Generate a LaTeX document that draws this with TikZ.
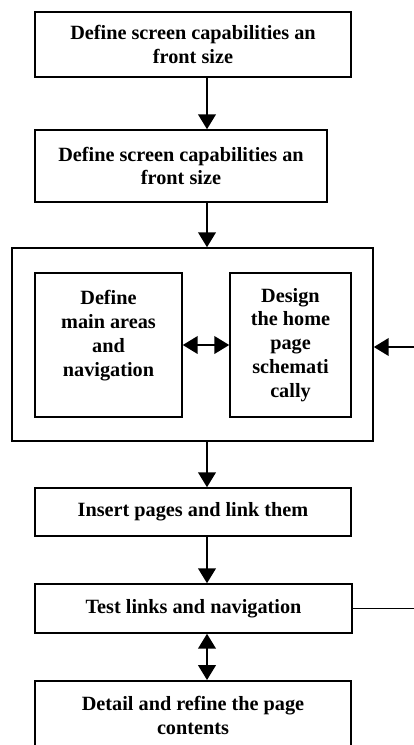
\documentclass[tikz,border=0pt]{standalone}
\usepackage{fontspec}
\setmainfont{Liberation Serif}
\usetikzlibrary{arrows.meta, positioning}

\begin{document}
\begin{tikzpicture}[x=0.025cm, y=-0.025cm,
    box/.style={draw, line width=1.1pt, align=center, inner sep=2pt, font=\bfseries\fontsize{14.4}{17}\selectfont},
    arrow/.style={-{Triangle[length=3.7mm, width=4.4mm]}, line width=1.2pt},
    twoway/.style={{Triangle[length=3.7mm, width=4.4mm]}-{Triangle[length=3.7mm, width=4.4mm]}, line width=1.2pt}]
  \useasboundingbox (0,0) rectangle (414,745);
  \clip (0,0) rectangle (414,745);
  \node[box, minimum width=7.9cm, minimum height=1.625cm] (screen) at (193,44.5) {Define screen capabilities an\\front size};
  \node[box, minimum width=7.3cm, minimum height=1.8cm] (screentwo) at (181,166) {Define screen capabilities an\\front size};
  \node[box, minimum width=9.025cm, minimum height=4.825cm] (group) at (192.5,344.5) {};
  \node[box, minimum width=3.675cm, minimum height=3.6cm] (areas) at (108.5,345) {Define\\main areas\\and\\navigation\\\mbox{}};
  \node[box, minimum width=3.025cm, minimum height=3.6cm] (home) at (290.5,345) {Design\\the home\\page\\schemati\\cally};
  \node[box, minimum width=7.9cm, minimum height=1.2cm] (insert) at (193,512) {Insert pages and link them};
  \node[box, minimum width=7.925cm, minimum height=1.225cm] (test) at (193.5,608.5) {Test links and navigation};
  \node[box, minimum width=7.9cm, minimum height=1.75cm, anchor=north] (detail) at (193,680) {Detail and refine the page\\contents};
  \coordinate (spine) at (207,0);
  \coordinate (feedin) at (414,347);
  \coordinate (feedout) at (414,607);
  \draw[arrow] (screen.south -| spine) -- (screentwo.north -| spine);
  \draw[arrow] (screentwo.south -| spine) -- (group.north -| spine);
  \draw[twoway] (areas) -- (home);
  \draw[arrow] (feedin) -- (feedin -| group.east);
  \draw[arrow] (group.south -| spine) -- (insert.north -| spine);
  \draw[arrow] (insert.south -| spine) -- (test.north -| spine);
  \draw[line width=0.8pt] (test.east) -- (test.east -| feedout);
  \draw[twoway] (test.south -| spine) -- (detail.north -| spine);
\end{tikzpicture}
\end{document}
